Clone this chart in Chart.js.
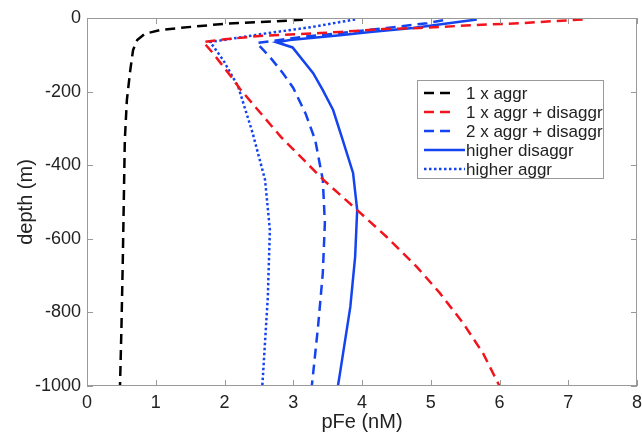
<!DOCTYPE html>
<html>
<head>
<meta charset="utf-8">
<script src="https://cdn.jsdelivr.net/npm/chart.js@4"></script>
<style>
  html, body { margin: 0; padding: 0; background: #fff; }
  #wrap { width: 642px; height: 438px; }
</style>
</head>
<body>
<div id="wrap"><canvas id="pfe-chart"></canvas></div>
<script>
// pFe profiles (nM) against depth (m)
const depthAggr = [-5, -16, -27, -33, -43, -60, -87, -141, -223, -332, -500, -666, -850, -1000];
const pfeAggr = [3.14, 1.98, 1.35, 1.06, 0.84, 0.73, 0.67, 0.63, 0.58, 0.55, 0.535, 0.52, 0.5, 0.48];

const depthAggrDis = [-4, -14, -19, -27, -30, -38, -41, -48, -58, -65, -95, -160, -196, -323, -372, -440, -522, -595, -677, -747, -829, -911, -1000];
const pfeAggrDis = [7.21, 6.3, 5.67, 4.84, 4.31, 3.68, 3.39, 2.56, 2.0, 1.69, 1.83, 2.1, 2.24, 2.82, 3.08, 3.44, 3.93, 4.36, 4.8, 5.13, 5.47, 5.76, 6.0];

const depth2AggrDis = [-6, -14, -27, -41, -52, -68, -106, -150, -190, -260, -332, -440, -557, -693, -840, -1000];
const pfe2AggrDis = [5.18, 4.95, 4.36, 3.68, 3.1, 2.47, 2.66, 2.85, 3.0, 3.18, 3.32, 3.43, 3.46, 3.43, 3.36, 3.27];

const depthHighDis = [-4, -27, -38, -47, -60, -66, -80, -150, -196, -250, -332, -421, -522, -649, -785, -965, -1000];
const pfeHighDis = [5.67, 4.74, 4.12, 3.68, 2.95, 2.76, 2.99, 3.29, 3.43, 3.58, 3.72, 3.87, 3.93, 3.9, 3.83, 3.68, 3.65];

const depthHighAggr = [-4, -11, -24, -43, -60, -65, -114, -187, -313, -440, -576, -758, -1000];
const pfeHighAggr = [3.9, 3.68, 3.29, 2.56, 1.98, 1.79, 1.98, 2.2, 2.41, 2.59, 2.66, 2.63, 2.55];

const xTicks = [0, 1, 2, 3, 4, 5, 6, 7, 8];
const yTicks = [0, -200, -400, -600, -800, -1000];

const RED = "#f2141c";
const BLUE = "#1444f0";
const FONT = "'Liberation Sans', Arial, sans-serif";

const toPoints = (xs, ys) => xs.map((x, i) => ({ x: x, y: ys[i] }));

const series = [
    { label: "1 x aggr", color: "#000000", dash: [10, 6], x: pfeAggr, y: depthAggr },
    { label: "1 x aggr + disaggr", color: RED, dash: [10, 6], x: pfeAggrDis, y: depthAggrDis },
    { label: "2 x aggr + disaggr", color: BLUE, dash: [10, 6], x: pfe2AggrDis, y: depth2AggrDis },
    { label: "higher disaggr", color: BLUE, dash: [], x: pfeHighDis, y: depthHighDis },
    { label: "higher aggr", color: BLUE, dash: [2.5, 2.5], x: pfeHighAggr, y: depthHighAggr },
];

// matlab style frame: box on all sides, ticks pointing in
const framePlugin = {
    id: "frame",
    afterDatasetsDraw(chart) {
        const { ctx, chartArea: a, scales } = chart;
        ctx.save();
        ctx.strokeStyle = "#9a9a9a";
        ctx.lineWidth = 1;
        ctx.strokeRect(a.left + 0.5, a.top + 0.5, a.right - a.left - 1, a.bottom - a.top - 1);
        ctx.beginPath();
        const len = 6;
        xTicks.forEach((v) => {
            const px = Math.round(scales.x.getPixelForValue(v)) + 0.5;
            ctx.moveTo(px, a.bottom); ctx.lineTo(px, a.bottom - len);
            ctx.moveTo(px, a.top); ctx.lineTo(px, a.top + len);
        });
        yTicks.forEach((v) => {
            const py = Math.round(scales.y.getPixelForValue(v)) + 0.5;
            ctx.moveTo(a.left, py); ctx.lineTo(a.left + len, py);
            ctx.moveTo(a.right, py); ctx.lineTo(a.right - len, py);
        });
        ctx.stroke();
        ctx.restore();
    },
    afterDraw(chart) {
        // legend box inside the axes
        const { ctx } = chart;
        const bx = 417, by = 80, bw = 186, bh = 98;
        ctx.save();
        ctx.fillStyle = "#fff";
        ctx.fillRect(bx, by, bw, bh);
        ctx.strokeStyle = "#9a9a9a";
        ctx.lineWidth = 1;
        ctx.strokeRect(bx + 0.5, by + 0.5, bw, bh);
        ctx.font = "17px " + FONT;
        ctx.textBaseline = "middle";
        series.forEach((s, i) => {
            const y = by + 13 + i * 19;
            ctx.strokeStyle = s.color;
            ctx.lineWidth = 2.5;
            ctx.setLineDash(s.dash);
            ctx.beginPath();
            ctx.moveTo(424, y);
            ctx.lineTo(s.dash.length && s.dash[0] > 5 ? 453 : 465, y);
            ctx.stroke();
            ctx.setLineDash([]);
            ctx.fillStyle = "#222";
            ctx.fillText(s.label, 466, y + 1);
        });
        ctx.restore();
    },
};

const ctx = document.getElementById("pfe-chart").getContext("2d");
new Chart(ctx, {
    type: "scatter",
    data: {
        datasets: series.map((s) => ({
            label: s.label,
            data: toPoints(s.x, s.y),
            showLine: true,
            borderColor: s.color,
            backgroundColor: s.color,
            borderWidth: 2.5,
            borderDash: s.dash,
            pointRadius: 0,
            tension: 0,
        })),
    },
    options: {
        responsive: true,
        maintainAspectRatio: false,
        animation: false,
        layout: { padding: { top: 18, right: 0, left: 0, bottom: 0 } },
        plugins: { legend: { display: false }, tooltip: { enabled: false } },
        scales: {
            x: {
                type: "linear",
                min: 0,
                max: 8,
                grid: { display: false, drawTicks: false },
                border: { display: false },
                ticks: {
                    stepSize: 1,
                    padding: 6,
                    color: "#222",
                    font: { family: FONT, size: 18 },
                    callback: (v) => String(v),
                },
                title: {
                    display: true,
                    text: "pFe (nM)",
                    color: "#222",
                    font: { family: FONT, size: 20 },
                    padding: { top: 0, bottom: 4 },
                },
                afterFit: (scale) => {
                    scale.height = 52;
                    scale.paddingLeft = 0;
                    scale.paddingRight = 5;
                },
            },
            y: {
                type: "linear",
                min: -1000,
                max: 0,
                grid: { display: false, drawTicks: false },
                border: { display: false },
                ticks: {
                    stepSize: 200,
                    padding: 6,
                    color: "#222",
                    font: { family: FONT, size: 18 },
                    callback: (v) => String(v),
                },
                title: {
                    display: true,
                    text: "depth (m)",
                    color: "#222",
                    font: { family: FONT, size: 20 },
                    padding: { top: 14, bottom: 0 },
                },
                afterFit: (scale) => { scale.width = 87; },
            },
        },
    },
    plugins: [framePlugin],
});
</script>
</body>
</html>
